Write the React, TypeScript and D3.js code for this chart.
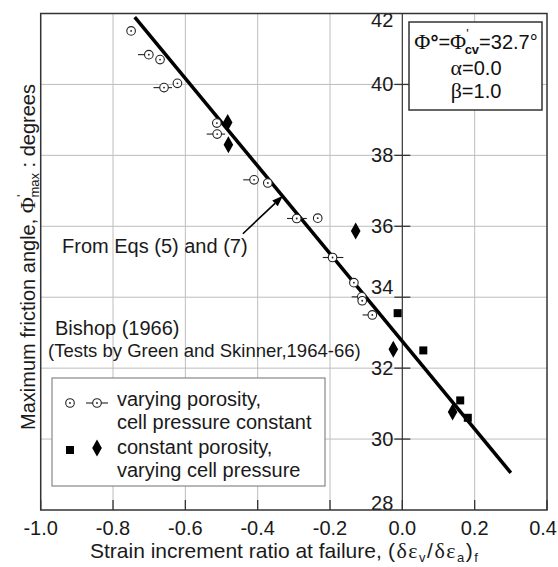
import React from 'react';
import * as d3 from 'd3';

// chart values
const xTicks = [-1.0, -0.8, -0.6, -0.4, -0.2, 0.0, 0.2, 0.4];
const xTickLabels = ['-1.0', '-0.8', '-0.6', '-0.4', '-0.2', '0.0', '0.2', '0.4'];
const yTicks = [28, 30, 32, 34, 36, 38, 40, 42];
const yTickLabels = ['28', '30', '32', '34', '36', '38', '40', '42'];

// varying porosity, cell pressure constant (open circles, some with bars)
const circleX = [-0.750, -0.701, -0.670, -0.659, -0.622, -0.513, -0.512, -0.410, -0.372, -0.292, -0.234, -0.193, -0.134, -0.112, -0.111, -0.083];
const circleY = [41.51, 40.84, 40.70, 39.91, 40.03, 38.91, 38.60, 37.31, 37.22, 36.22, 36.23, 35.12, 34.41, 34.01, 33.90, 33.50];
const barLo = [null, -0.731, null, -0.688, null, null, -0.541, -0.440, null, -0.319, null, -0.220, null, -0.140, null, -0.110];
const barHi = [null, null, null, -0.637, null, null, -0.490, null, null, -0.264, null, -0.163, null, null, null, null];

// constant porosity, varying cell pressure
const squareX = [-0.013, 0.058, 0.160, 0.181];
const squareY = [33.55, 32.50, 31.09, 30.60];
const diamondX = [-0.483, -0.481, -0.129, -0.025, 0.139];
const diamondY = [38.93, 38.30, 35.87, 32.53, 30.76];

// line from Eqs (5) and (7)
const fitX = [-0.74, 0.30];
const fitY = [41.9, 29.05];

// annotation arrow (tail, head) in data units
const arrowX = [-0.441, -0.330];
const arrowY = [35.79, 36.86];

const W = 558;
const H = 567;
const FONT = '"Liberation Sans", Arial, Helvetica, sans-serif';
const SERIF = '"Liberation Serif", "Times New Roman", serif';

export default function App() {
  const x = d3.scaleLinear().domain([-1, 0.4]).range([40.7, 547]);
  const y = d3.scaleLinear().domain([28, 42]).range([510, 13.5]);

  const fitLine = d3.line<number>()
    .x((d, i) => x(fitX[i]))
    .y((d, i) => y(fitY[i]))(fitX);

  // arrow head geometry
  const ax0 = x(arrowX[0]), ay0 = y(arrowY[0]);
  const ax1 = x(arrowX[1]), ay1 = y(arrowY[1]);
  const ang = Math.atan2(ay1 - ay0, ax1 - ax0);
  const hl = 11, hw = 4;
  const bx = ax1 - hl * Math.cos(ang), by = ay1 - hl * Math.sin(ang);
  const head = [
    [ax1, ay1],
    [bx + hw * Math.sin(ang), by - hw * Math.cos(ang)],
    [bx - hw * Math.sin(ang), by + hw * Math.cos(ang)],
  ].map(p => p.join(',')).join(' ');

  const yLabelShift = (t: number) => (t === 42 ? 6.5 : t === 34 ? -10 : t === 28 ? -7 : 0);

  const diamond = (cx: number, cy: number, w = 4.8, h = 8.5) =>
    `${cx},${cy - h} ${cx + w},${cy} ${cx},${cy + h} ${cx - w},${cy}`;

  return (
    <svg width={W} height={H} style={{ position: 'absolute', left: 0, top: 0, background: '#fff' }}
      fontFamily={FONT}>
      {/* grid */}
      <g stroke="#bdbdbd" strokeWidth={1}>
        {xTicks.filter(t => t !== -1 && t !== 0 && t !== 0.4).map(t => (
          <line key={'gx' + t} x1={x(t)} x2={x(t)} y1={y(42)} y2={y(28)} />
        ))}
        {yTicks.filter(t => t !== 28 && t !== 42).map(t => (
          <line key={'gy' + t} x1={x(-1)} x2={x(0.4)} y1={y(t)} y2={y(t)} />
        ))}
      </g>

      {/* vertical axis at zero */}
      <line x1={x(0)} x2={x(0)} y1={y(42)} y2={y(28)} stroke="#444" strokeWidth={1.3} />
      {yTicks.filter(t => t !== 28 && t !== 42).map(t => (
        <line key={'yt' + t} x1={x(0) - 8} x2={x(0) + 8} y1={y(t)} y2={y(t)} stroke="#333" strokeWidth={1.3} />
      ))}
      {yTicks.map((t, i) => (
        <text key={'yl' + t} x={x(0) - 9} y={y(t) + 7 + yLabelShift(t)} textAnchor="end" fontSize={20} fill="#1a1a1a">
          {yTickLabels[i]}
        </text>
      ))}

      {/* x ticks */}
      {xTicks.map((t, i) => {
        const last = i === xTicks.length - 1;
        return (
          <g key={'xt' + t}>
            <line x1={x(t)} x2={x(t)} y1={y(28)} y2={y(28) - 10} stroke="#333" strokeWidth={1.3} />
            <text x={last ? 557 : x(t)} y={535} textAnchor={last ? 'end' : 'middle'} fontSize={20} fill="#1a1a1a">
              {xTickLabels[i]}
            </text>
          </g>
        );
      })}

      {/* frame */}
      <rect x={x(-1)} y={y(42)} width={x(0.4) - x(-1)} height={y(28) - y(42)} fill="none" stroke="#333" strokeWidth={1.5} />

      {/* fitted line */}
      <path d={fitLine || ''} stroke="#000" strokeWidth={3.5} fill="none" />

      {/* open circles with bars */}
      <g stroke="#222" strokeWidth={1.1}>
        {circleX.map((cx, i) => (
          <g key={'c' + i}>
            {barLo[i] !== null && <line x1={x(barLo[i] as number)} x2={x(cx) - 4} y1={y(circleY[i])} y2={y(circleY[i])} />}
            {barHi[i] !== null && <line x1={x(cx) + 4} x2={x(barHi[i] as number)} y1={y(circleY[i])} y2={y(circleY[i])} />}
            <circle cx={x(cx)} cy={y(circleY[i])} r={4.3} fill="#fff" />
            <circle cx={x(cx)} cy={y(circleY[i])} r={0.9} fill="#222" stroke="none" />
          </g>
        ))}
      </g>

      {/* squares */}
      {squareX.map((sx, i) => (
        <rect key={'s' + i} x={x(sx) - 4} y={y(squareY[i]) - 4} width={8} height={8} fill="#000" />
      ))}
      {/* diamonds */}
      {diamondX.map((dx, i) => (
        <polygon key={'d' + i} points={diamond(x(dx), y(diamondY[i]))} fill="#000" />
      ))}

      {/* annotation */}
      <line x1={ax0} y1={ay0} x2={bx} y2={by} stroke="#000" strokeWidth={1.6} />
      <polygon points={head} fill="#000" />
      <text x={62} y={253} fontSize={20} fill="#1a1a1a">From Eqs (5) and (7)</text>

      <text x={55} y={335} fontSize={20} fill="#1a1a1a">Bishop (1966)</text>
      <text x={48} y={357} fontSize={18.5} fill="#1a1a1a">(Tests by Green and Skinner,1964-66)</text>

      {/* parameter box */}
      <rect x={409} y={22} width={133} height={88} fill="#fff" stroke="#333" strokeWidth={1.5} />
      <text x={476} y={49} textAnchor="middle" fontSize={20} fill="#111">
        <tspan fontFamily={SERIF} fontSize={22}>Φ</tspan>
        <tspan fontWeight="bold">°</tspan>
        <tspan>=</tspan>
        <tspan fontFamily={SERIF} fontSize={22}>Φ</tspan>
        <tspan fontSize={13} dy={-11}>'</tspan>
        <tspan fontSize={13} fontWeight="bold" dx={-4} dy={16}>cv</tspan>
        <tspan dy={-5}>=32.7°</tspan>
      </text>
      <text x={476} y={75} textAnchor="middle" fontSize={20} fill="#111">
        <tspan fontFamily={SERIF} fontSize={22}>α</tspan>=0.0
      </text>
      <text x={476} y={98} textAnchor="middle" fontSize={20} fill="#111">
        <tspan fontFamily={SERIF} fontSize={22}>β</tspan>=1.0
      </text>

      {/* legend */}
      <rect x={52} y={378} width={273} height={108} fill="#fff" stroke="#888" strokeWidth={1.2} />
      <g stroke="#222" strokeWidth={1.1}>
        <circle cx={70} cy={403} r={4.3} fill="#fff" />
        <circle cx={70} cy={403} r={0.9} fill="#222" stroke="none" />
        <line x1={86} x2={93} y1={403} y2={403} />
        <line x1={101} x2={108} y1={403} y2={403} />
        <circle cx={97} cy={403} r={4.3} fill="#fff" />
        <circle cx={97} cy={403} r={0.9} fill="#222" stroke="none" />
      </g>
      <rect x={66} y={446} width={8} height={8} fill="#000" />
      <polygon points={diamond(97, 448)} fill="#000" />
      <g fontSize={20} fill="#1a1a1a">
        <text x={117} y={406}>varying porosity,</text>
        <text x={117} y={429}>cell pressure constant</text>
        <text x={117} y={454}>constant porosity,</text>
        <text x={117} y={477}>varying cell pressure</text>
      </g>

      {/* axis titles */}
      <text x={90} y={558} fontSize={21} fill="#1a1a1a">Strain increment ratio at failure,</text>
      <text x={388} y={558} fontSize={21} fill="#1a1a1a" letterSpacing={1.5}>
        (
        <tspan fontFamily={SERIF} fontSize={22}>δε</tspan>
        <tspan fontSize={13} dy={4}>v</tspan>
        <tspan dy={-4}>/</tspan>
        <tspan fontFamily={SERIF} fontSize={22}>δε</tspan>
        <tspan fontSize={13} dy={4}>a</tspan>
        <tspan dy={-4}>)</tspan>
        <tspan fontSize={13} dy={4}>f</tspan>
      </text>
      <text transform="translate(35,257) rotate(-90)" textAnchor="middle" fontSize={20} fill="#1a1a1a">
        Maximum friction angle, <tspan fontFamily={SERIF} fontSize={22}>Φ</tspan>
        <tspan fontSize={13} dy={-9}>'</tspan>
        <tspan fontSize={13} dx={-3} dy={13}>max</tspan>
        <tspan dy={-4}> : degrees</tspan>
      </text>
    </svg>
  );
}
